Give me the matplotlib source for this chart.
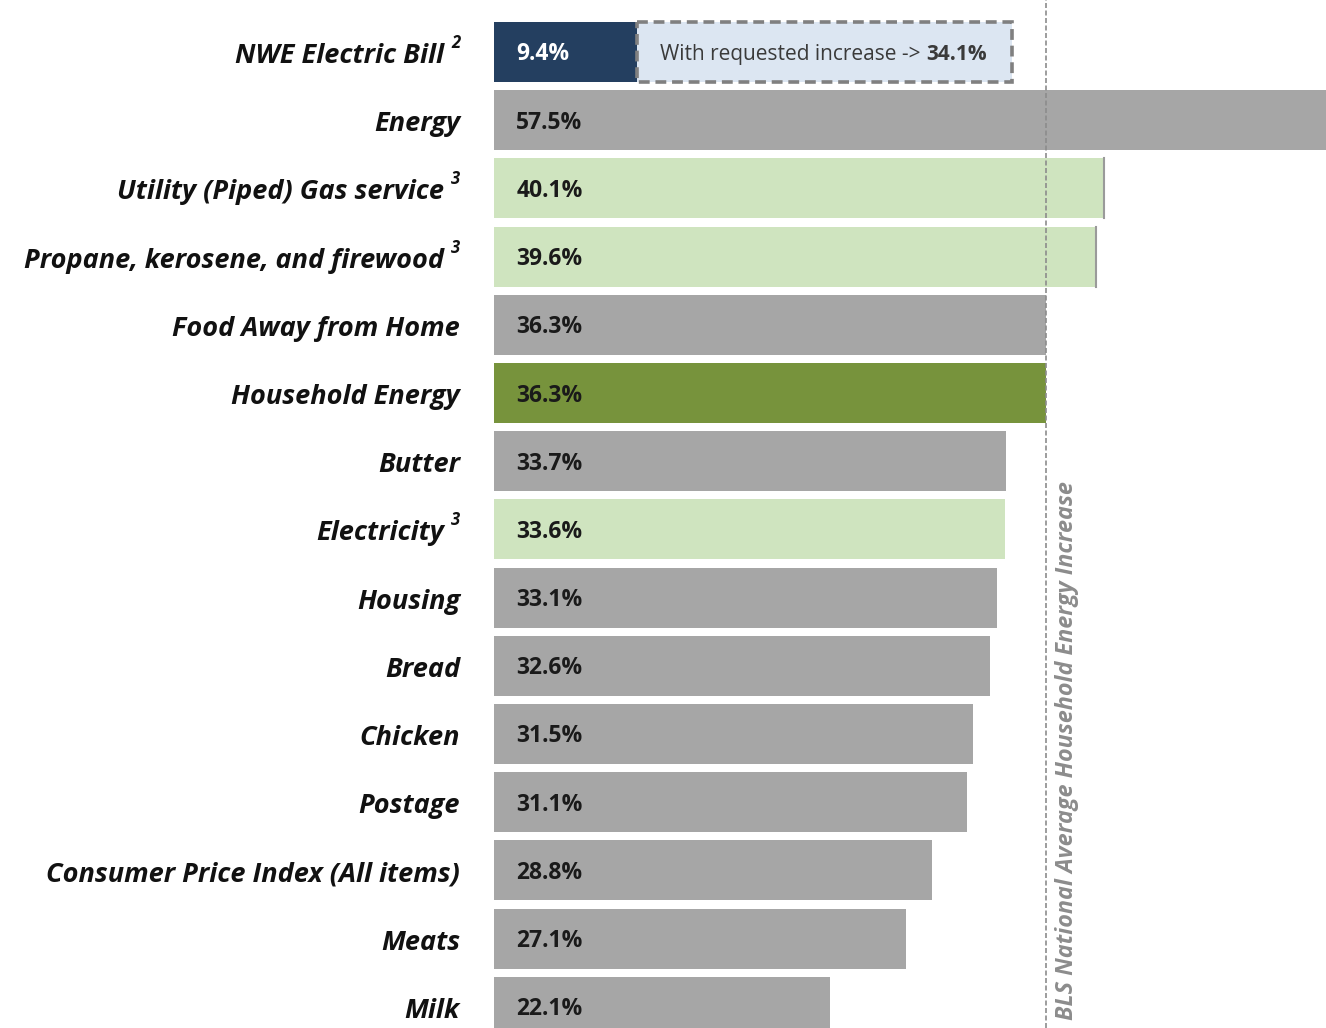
import matplotlib
matplotlib.use("Agg")
import matplotlib.pyplot as plt

categories = [
    "NWE Electric Bill",
    "Energy",
    "Utility (Piped) Gas service",
    "Propane, kerosene, and firewood",
    "Food Away from Home",
    "Household Energy",
    "Butter",
    "Electricity",
    "Housing",
    "Bread",
    "Chicken",
    "Postage",
    "Consumer Price Index (All items)",
    "Meats",
    "Milk",
]
footnotes = ["2", "", "3", "3", "", "", "", "3", "", "", "", "", "", "", ""]
values = [9.4, 57.5, 40.1, 39.6, 36.3, 36.3, 33.7, 33.6, 33.1, 32.6, 31.5, 31.1, 28.8, 27.1, 22.1]
value_labels = ["9.4%", "57.5%", "40.1%", "39.6%", "36.3%", "36.3%", "33.7%", "33.6%",
                "33.1%", "32.6%", "31.5%", "31.1%", "28.8%", "27.1%", "22.1%"]
requested_total = 34.1
requested_label = "34.1%"
requested_text = "With requested increase -> "
bls_reference = 36.3
bls_text = "BLS National Average Household Energy Increase"

GREY = "#A6A6A6"
NAVY = "#243F60"
LGREEN = "#CFE4BF"
DGREEN = "#77933C"
bar_colors = [NAVY, GREY, LGREEN, LGREEN, GREY, DGREEN, GREY, LGREEN,
              GREY, GREY, GREY, GREY, GREY, GREY, GREY]
label_colors = ["white"] + ["#1A1A1A"] * 14

PX = 0.72  # points per pixel at dpi 100

fig = plt.figure(figsize=(13.26, 10.28), dpi=100)
ax = fig.add_axes([494 / 1326, 0, 1 - 494 / 1326, 1])

ypos = list(range(len(categories)))
h = 0.88
ax.barh(ypos, values, height=h, color=bar_colors, edgecolor="none", zorder=2)

# light green bars have a thin grey right edge
for i, (v, c) in enumerate(zip(values, bar_colors)):
    if c == LGREEN and i in (2, 3):
        ax.plot([v, v], [i - h / 2, i + h / 2], color="#9A9A9A", lw=1.5, zorder=3)

# requested increase box
ax.barh(0, requested_total - values[0], left=values[0], height=h,
        color="#DCE6F2", edgecolor="#808080", linestyle=(0, (3, 1.6)), linewidth=2.6, zorder=2)

# category labels with footnote superscripts
for i, (name, fn) in enumerate(zip(categories, footnotes)):
    right = -50 if fn else -34
    ax.annotate(name, xy=(0, i), xycoords=("axes fraction", "data"),
                xytext=(right * PX, -4 * PX), textcoords="offset points",
                ha="right", va="center", fontsize=19.5, fontweight="bold", style="italic",
                family="Open Sans", color="#111111")
    if fn:
        ax.annotate(fn, xy=(0, i), xycoords=("axes fraction", "data"),
                    xytext=(-43 * PX, 9 * PX), textcoords="offset points",
                    ha="left", va="center", fontsize=12, fontweight="bold", style="italic",
                    family="Open Sans", color="#111111")

# value labels
for i, (lab, col) in enumerate(zip(value_labels, label_colors)):
    ax.annotate(lab, xy=(0, i), xytext=(16, -2.5 * PX), textcoords="offset points",
                ha="left", va="center", fontsize=16.5, fontweight="bold",
                color=col, family="Open Sans", zorder=4)

t1 = ax.annotate(requested_text, xy=(values[0], 0), xytext=(17, -2.5 * PX), textcoords="offset points",
                 ha="left", va="center", fontsize=15, color="#3A3A3A", family="Open Sans", zorder=4)
ax.annotate(requested_label, xy=(1, 0.5), xycoords=t1, ha="left", va="center",
            fontsize=15, fontweight="bold", color="#3A3A3A", family="Open Sans", zorder=4)

# BLS reference line
ax.axvline(bls_reference, color="#8C8C8C", lw=1.2, linestyle=(0, (3, 1.5)), zorder=3)
ax.text(bls_reference + 1.4, 14.19, bls_text, rotation=90, ha="center", va="bottom",
        fontsize=16.8, style="italic", fontweight="bold", color="#8C8C8C", family="Open Sans")

ax.set_xlim(0, 832 / 15.2)
ax.set_ylim(14 + 21.2 / 68.2, -52 / 68.2)
ax.set_yticks([])
ax.set_xticks([])
for s in ax.spines.values():
    s.set_visible(False)

fig.savefig("out.png", dpi=100)
